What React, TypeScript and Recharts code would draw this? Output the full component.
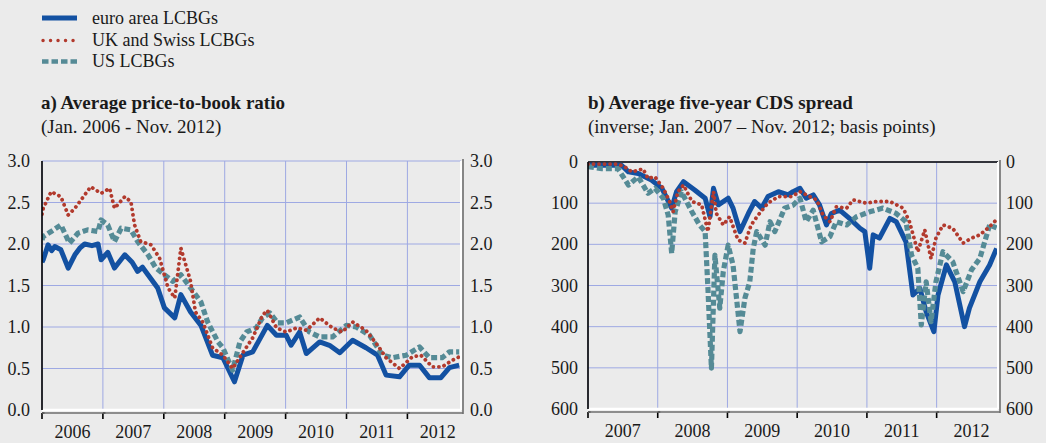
import React from "react";
import { LineChart, Line, XAxis, YAxis, CartesianGrid, ReferenceLine } from "recharts";

// panel a: average price-to-book ratio, [decimal year, ratio]
const euroPB: [number, number][] = [
  [2006.0, 1.78], [2006.02, 1.81], [2006.1, 1.99], [2006.16, 1.92], [2006.21, 1.97], [2006.31, 1.93], [2006.43, 1.71],
  [2006.54, 1.87], [2006.62, 1.95], [2006.7, 2.0], [2006.82, 1.98], [2006.92, 2.0], [2006.97, 1.81], [2007.08, 1.9], [2007.19, 1.71],
  [2007.36, 1.87], [2007.48, 1.78], [2007.57, 1.67], [2007.65, 1.72], [2007.74, 1.63], [2007.9, 1.47], [2008.01, 1.23], [2008.18, 1.11],
  [2008.28, 1.39], [2008.44, 1.18], [2008.61, 1.02], [2008.8, 0.66], [2008.97, 0.63], [2009.16, 0.34],
  [2009.3, 0.66], [2009.46, 0.7], [2009.7, 1.02], [2009.85, 0.9], [2010.01, 0.9], [2010.09, 0.78],
  [2010.23, 0.94], [2010.34, 0.68], [2010.56, 0.82], [2010.72, 0.78], [2010.89, 0.69], [2011.1, 0.84],
  [2011.32, 0.75], [2011.51, 0.66], [2011.65, 0.42], [2011.87, 0.4], [2012.03, 0.54], [2012.2, 0.54],
  [2012.36, 0.39], [2012.55, 0.39], [2012.69, 0.51], [2012.85, 0.54],
];
const ukSwissPB: [number, number][] = [
  [2006.0, 2.36], [2006.02, 2.43], [2006.15, 2.63], [2006.31, 2.57], [2006.43, 2.35], [2006.54, 2.43],
  [2006.7, 2.59], [2006.8, 2.69], [2006.97, 2.61], [2007.11, 2.67], [2007.19, 2.43], [2007.36, 2.57],
  [2007.46, 2.51], [2007.52, 2.23], [2007.62, 2.03], [2007.79, 1.99], [2007.93, 1.83], [2008.07, 1.47],
  [2008.18, 1.35], [2008.28, 1.95], [2008.36, 1.75], [2008.44, 1.55], [2008.52, 1.18], [2008.64, 1.06],
  [2008.8, 0.75], [2008.97, 0.66], [2009.13, 0.5], [2009.27, 0.66], [2009.46, 0.87], [2009.62, 1.14],
  [2009.7, 1.2], [2009.85, 0.99], [2010.01, 0.94], [2010.18, 0.99], [2010.34, 0.96], [2010.56, 1.11],
  [2010.77, 0.99], [2010.93, 0.94], [2011.1, 1.06], [2011.32, 0.96], [2011.51, 0.78], [2011.65, 0.63],
  [2011.87, 0.5], [2012.08, 0.64], [2012.22, 0.66], [2012.41, 0.52], [2012.57, 0.52], [2012.74, 0.6],
  [2012.85, 0.64],
];
const usPB: [number, number][] = [
  [2006.0, 2.05], [2006.02, 2.09], [2006.15, 2.15], [2006.31, 2.23], [2006.45, 2.01], [2006.59, 2.13],
  [2006.75, 2.17], [2006.92, 2.15], [2006.97, 2.29], [2007.08, 2.23], [2007.19, 2.03], [2007.3, 2.19],
  [2007.46, 2.17], [2007.57, 2.03], [2007.74, 1.87], [2007.87, 1.71], [2008.01, 1.63], [2008.15, 1.55],
  [2008.28, 1.63], [2008.44, 1.47], [2008.61, 1.3], [2008.72, 1.06], [2008.89, 0.82], [2008.97, 0.75],
  [2009.13, 0.48], [2009.25, 0.82], [2009.36, 0.94], [2009.52, 0.99], [2009.62, 1.11], [2009.74, 1.17],
  [2009.87, 1.05], [2010.01, 1.05], [2010.23, 1.12], [2010.39, 0.94], [2010.56, 0.88], [2010.77, 0.88],
  [2011.0, 1.02], [2011.16, 1.0], [2011.38, 0.9], [2011.59, 0.66], [2011.75, 0.63], [2011.98, 0.66],
  [2012.2, 0.76], [2012.36, 0.63], [2012.57, 0.63], [2012.69, 0.7], [2012.85, 0.7],
];

// panel b: average five-year CDS spread, [decimal year, basis points]
const euroCDS: [number, number][] = [
  [2007.0, 8], [2007.48, 8], [2007.58, 24], [2007.72, 28], [2007.91, 44], [2008.06, 64], [2008.2, 112],
  [2008.27, 72], [2008.37, 48], [2008.53, 68], [2008.68, 88], [2008.75, 133], [2008.8, 64], [2008.87, 104],
  [2009.01, 88], [2009.08, 112], [2009.18, 169], [2009.3, 125], [2009.39, 96], [2009.49, 112], [2009.58, 84],
  [2009.73, 72], [2009.87, 80], [2009.94, 72], [2010.04, 64], [2010.13, 88], [2010.23, 80], [2010.32, 104],
  [2010.42, 153], [2010.49, 125], [2010.61, 117], [2010.75, 137], [2010.9, 161], [2010.97, 169],
  [2011.04, 258], [2011.09, 177], [2011.18, 185], [2011.33, 137], [2011.42, 145], [2011.56, 194],
  [2011.66, 323], [2011.76, 307], [2011.85, 364], [2011.96, 412], [2012.02, 323], [2012.14, 250],
  [2012.26, 291], [2012.4, 400], [2012.47, 355], [2012.62, 291], [2012.76, 250], [2012.86, 210],
];
const ukSwissCDS: [number, number][] = [
  [2007.0, 5], [2007.43, 5], [2007.53, 12], [2007.63, 24], [2007.79, 17], [2007.86, 40], [2007.96, 36],
  [2008.08, 64], [2008.17, 96], [2008.22, 121], [2008.29, 72], [2008.37, 56], [2008.49, 96], [2008.63, 104],
  [2008.72, 169], [2008.8, 72], [2008.84, 125], [2008.94, 153], [2009.03, 133], [2009.15, 189],
  [2009.25, 197], [2009.34, 153], [2009.44, 129], [2009.58, 100], [2009.73, 84], [2009.92, 84],
  [2010.04, 72], [2010.18, 84], [2010.28, 92], [2010.37, 129], [2010.47, 145], [2010.56, 109],
  [2010.71, 112], [2010.8, 92], [2010.99, 100], [2011.13, 96], [2011.33, 96], [2011.52, 112],
  [2011.61, 145], [2011.73, 218], [2011.83, 165], [2011.92, 235], [2011.99, 185], [2012.09, 153],
  [2012.23, 161], [2012.38, 197], [2012.5, 185], [2012.62, 177], [2012.76, 157], [2012.86, 140],
];
const usCDS: [number, number][] = [
  [2007.0, 11], [2007.2, 16], [2007.43, 16], [2007.58, 56], [2007.72, 36], [2007.86, 76], [2007.96, 64],
  [2008.08, 88], [2008.15, 129], [2008.2, 222], [2008.25, 121], [2008.34, 72], [2008.49, 121], [2008.6, 153],
  [2008.68, 169], [2008.72, 307], [2008.77, 501], [2008.82, 226], [2008.89, 355], [2008.94, 266],
  [2009.01, 202], [2009.08, 250], [2009.18, 412], [2009.25, 331], [2009.32, 291], [2009.37, 210],
  [2009.42, 169], [2009.54, 202], [2009.61, 145], [2009.68, 169], [2009.82, 112], [2009.94, 105],
  [2010.04, 88], [2010.13, 145], [2010.23, 117], [2010.35, 194], [2010.47, 181], [2010.56, 145],
  [2010.71, 153], [2010.85, 133], [2011.04, 121], [2011.23, 112], [2011.42, 125], [2011.56, 145],
  [2011.64, 226], [2011.73, 258], [2011.78, 396], [2011.85, 291], [2011.92, 388], [2011.99, 291],
  [2012.09, 218], [2012.23, 242], [2012.38, 315], [2012.5, 262], [2012.62, 234], [2012.76, 153], [2012.86, 160],
];

const yearsA = [2006, 2007, 2008, 2009, 2010, 2011, 2012];
const yearsB = [2007, 2008, 2009, 2010, 2011, 2012];
const ticksA = [0, 0.5, 1, 1.5, 2, 2.5, 3];
const ticksB = [0, 100, 200, 300, 400, 500, 600];

const BG = "#ebebeb";
const GRID = "#9ea9e3";
const EURO = "#1351a2";
const UK = "#b23a2d";
const US = "#558b96";
const FONT = "'Liberation Serif', 'Times New Roman', serif";
const TXT = "#1a1a1a";

const pts = (arr: [number, number][]) => arr.map(([t, v]) => ({ t, v }));

const series = [
  { key: "euro", color: EURO, width: 5, dash: undefined, cap: "butt" },
  { key: "us", color: US, width: 5.2, dash: "6 3", cap: "butt" },
  { key: "uk", color: UK, width: 3.8, dash: "0.1 5.4", cap: "round" },
];

function LeftTick(props: any) {
  const { x, y, payload, fmt } = props;
  return (
    <text x={x} y={y} textAnchor="end" dominantBaseline="central" fontFamily={FONT} fontSize={18} fill={TXT}>
      {fmt(payload.value)}
    </text>
  );
}

function RightTick(props: any) {
  const { x, y, payload, fmt } = props;
  return (
    <text x={x} y={y} textAnchor="start" dominantBaseline="central" fontFamily={FONT} fontSize={18} fill={TXT}>
      {fmt(payload.value)}
    </text>
  );
}

function YearTick(props: any) {
  const { x, y, payload, half } = props;
  return (
    <g>
      <path d={`M${x},${y + 3} L${x},${y + 9} M${x},${y + 3} L${x + 2.5},${y + 3}`} stroke="#000" strokeWidth={1.6} fill="none" />
      <text x={x + half} y={y + 28} textAnchor="middle" fontFamily={FONT} fontSize={18} fill={TXT}>
        {payload.value}
      </text>
    </g>
  );
}

type PanelProps = {
  left: number;
  width: number;
  top: number;
  bottom: number;
  yLeftW: number;
  yRightW: number;
  xDomain: [number, number];
  years: number[];
  yDomain: [number, number];
  yTicks: number[];
  reversed: boolean;
  fmt: (v: number) => string;
  data: { euro: [number, number][]; uk: [number, number][]; us: [number, number][] };
  topBlack: boolean;
};

function Panel(p: PanelProps) {
  const plotW = p.width - p.yLeftW - p.yRightW;
  const half = plotW / (p.xDomain[1] - p.xDomain[0]) / 2;
  const plotRight = p.yLeftW + plotW;
  return (
    <div style={{ position: "absolute", left: p.left, top: 0, width: p.width, height: 443 }}>
      <LineChart width={p.width} height={443} margin={{ top: p.top, right: 0, bottom: 0, left: 0 }}>
        <CartesianGrid xAxisId="x" yAxisId="l" stroke={GRID} strokeWidth={1} />
        <XAxis
          xAxisId="x"
          type="number"
          dataKey="t"
          domain={p.xDomain}
          ticks={p.years}
          allowDataOverflow
          height={443 - p.bottom}
          axisLine={{ stroke: "#ffffff", strokeWidth: 2.5 }}
          tickLine={false}
          tickSize={0}
          tickMargin={0}
          tick={<YearTick half={half} />}
          interval={0}
        />
        <YAxis
          yAxisId="l"
          orientation="left"
          width={p.yLeftW}
          domain={p.yDomain}
          ticks={p.yTicks}
          reversed={p.reversed}
          allowDataOverflow
          axisLine={{ stroke: "#000", strokeWidth: 1.6 }}
          tickLine={false}
          tickSize={0}
          tickMargin={p.yLeftW === 42 ? 12 : 10}
          tick={<LeftTick fmt={p.fmt} />}
          interval={0}
        />
        <YAxis
          yAxisId="r"
          orientation="right"
          width={p.yRightW}
          domain={p.yDomain}
          ticks={p.yTicks}
          reversed={p.reversed}
          allowDataOverflow
          axisLine={{ stroke: "#ffffff", strokeWidth: 2 }}
          tickLine={false}
          tickSize={0}
          tickMargin={p.yLeftW === 42 ? 9 : 8}
          tick={<RightTick fmt={p.fmt} />}
          interval={0}
        />
        {p.topBlack && (
          <ReferenceLine xAxisId="x" yAxisId="l" y={p.yDomain[0]} stroke="#000" strokeWidth={1.6} />
        )}
        {series.map((s) => (
          <Line
            key={s.key}
            xAxisId="x"
            yAxisId="l"
            data={pts(p.data[s.key as "euro" | "uk" | "us"])}
            dataKey="v"
            type="linear"
            stroke={s.color}
            strokeWidth={s.width}
            strokeDasharray={s.dash}
            strokeLinecap={s.cap as any}
            strokeLinejoin="round"
            dot={false}
            activeDot={false}
            isAnimationActive={false}
          />
        ))}
      </LineChart>
      <svg width={p.width} height={443} style={{ position: "absolute", left: 0, top: 0, pointerEvents: "none" }}>
        <line x1={plotRight + 2} y1={p.top - 2} x2={plotRight + 2} y2={p.bottom + 4} stroke="#6e6e6e" strokeWidth={1.6} />
        <line x1={p.yLeftW} y1={p.bottom + 3} x2={plotRight + 2} y2={p.bottom + 3} stroke="#6e6e6e" strokeWidth={1.6} />
      </svg>
    </div>
  );
}

function LegendAndTitles() {
  const t = { fontFamily: FONT, fill: TXT };
  return (
    <svg width={1046} height={150} style={{ position: "absolute", left: 0, top: 0 }}>
      <line x1={42} y1={18} x2={77} y2={18} stroke={EURO} strokeWidth={5} />
      <line x1={43} y1={40.5} x2={77} y2={40.5} stroke={UK} strokeWidth={3.4} strokeDasharray="0.1 7.4" strokeLinecap="round" />
      <line x1={42} y1={61.5} x2={78} y2={61.5} stroke={US} strokeWidth={4.5} strokeDasharray="6.5 3" />
      <text x={92} y={24} fontSize={18} {...t}>euro area LCBGs</text>
      <text x={92} y={46} fontSize={18} {...t}>UK and Swiss LCBGs</text>
      <text x={92} y={67} fontSize={18} {...t}>US LCBGs</text>

      <text x={41} y={109} fontSize={19} fontWeight="bold" {...t}>a) Average price-to-book ratio</text>
      <text x={41} y={133} fontSize={19} {...t}>(Jan. 2006 - Nov. 2012)</text>
      <text x={588} y={109} fontSize={19} fontWeight="bold" {...t}>b) Average five-year CDS spread</text>
      <text x={588} y={133} fontSize={19} {...t}>(inverse; Jan. 2007 – Nov. 2012; basis points)</text>
    </svg>
  );
}

export default function App() {
  return (
    <div style={{ position: "absolute", left: 0, top: 0, width: 1046, height: 443, background: BG, overflow: "hidden" }}>
      <LegendAndTitles />
      <Panel
        left={0}
        width={520}
        top={161}
        bottom={410}
        yLeftW={42}
        yRightW={59}
        xDomain={[2006, 2012.88]}
        years={yearsA}
        yDomain={[0, 3]}
        yTicks={ticksA}
        reversed={false}
        fmt={(v) => v.toFixed(1)}
        data={{ euro: euroPB, uk: ukSwissPB, us: usPB }}
        topBlack={false}
      />
      <Panel
        left={520}
        width={526}
        top={162}
        bottom={409}
        yLeftW={68}
        yRightW={48}
        xDomain={[2007, 2012.88]}
        years={yearsB}
        yDomain={[0, 600]}
        yTicks={ticksB}
        reversed={true}
        fmt={(v) => String(v)}
        data={{ euro: euroCDS, uk: ukSwissCDS, us: usCDS }}
        topBlack={true}
      />
    </div>
  );
}
